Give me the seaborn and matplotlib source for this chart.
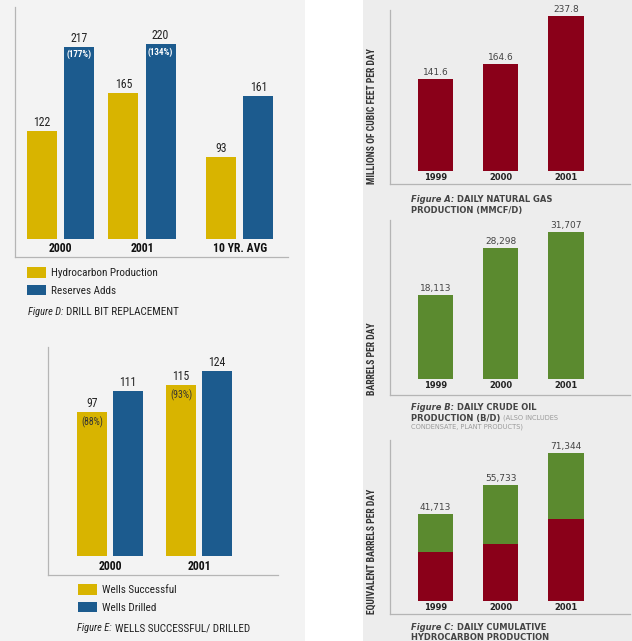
import matplotlib
matplotlib.use("Agg")
import matplotlib.pyplot as plt
import matplotlib.transforms as mtransforms
from matplotlib import font_manager as fm
from matplotlib.patches import Patch, Rectangle
import pandas as pd
import seaborn as sns

# ---------------- data ----------------
d_groups = ["2000", "2001", "10 YR. AVG"]
d_series = ["Hydrocarbon Production", "Reserves Adds"]
d_production = [122, 165, 93]
d_reserves = [217, 220, 161]
d_reserve_pct = ["(177%)", "(134%)", ""]

e_groups = ["2000", "2001"]
e_series = ["Wells Successful", "Wells Drilled"]
e_successful = [97, 115]
e_drilled = [111, 124]
e_success_pct = ["(88%)", "(93%)"]

years = ["1999", "2000", "2001"]
gas_mmcfd = [141.6, 164.6, 237.8]
oil_bd = [18113, 28298, 31707]
total_boe = [41713, 55733, 71344]
gas_boe = [23600, 27435, 39637]

# ---------------- style ----------------
YEL = "#D8B400"
BLUE = "#1C5B8E"
RED = "#8A0019"
GREEN = "#5B8A2F"
WIDE = ["DejaVu Sans"]
BAR = dict(saturation=1, errorbar=None, linewidth=0, edgecolor="none")

sns.set_style("white")
plt.rcParams["font.family"] = ["Liberation Sans", "DejaVu Sans"]


def _num(v, table, default):
    if isinstance(v, (int, float)):
        return v
    return table.get(v, default)


def find_condensed(bold=False, italic=False):
    prefs = ["Liberation Sans Narrow", "Roboto Condensed", "DejaVu Sans",
             "Noto Sans", "Open Sans", "Roboto", "Lato", "Inter"]
    best, best_key = None, None
    for f in fm.fontManager.ttflist:
        name = f.name
        sv = _num(f.stretch, fm.stretch_dict, 500)
        cond = ("Narrow" in name or "Condensed" in name or sv < 500)
        if not cond or sv < 300:
            continue
        if "CJK" in name or "Mono" in name or "Serif" in name:
            continue
        w = _num(f.weight, fm.weight_dict, 400)
        if bold != (w >= 600):
            continue
        if italic != (f.style in ("italic", "oblique")):
            continue
        rank = next((i for i, p in enumerate(prefs) if name.startswith(p)), len(prefs))
        key = (rank, abs(w - (700 if bold else 400)), abs(sv - 300))
        if best_key is None or key < best_key:
            best, best_key = f, key
    if best is None:
        return fm.FontProperties(family=["Liberation Sans", "DejaVu Sans"],
                                 weight="bold" if bold else "normal",
                                 style="italic" if italic else "normal"), False
    return fm.FontProperties(fname=best.fname), True


_NR, HAS_NARROW = find_condensed()
_NB, _ = find_condensed(bold=True)
_NI, _ = find_condensed(italic=True)
SHRINK = 1.0 if HAS_NARROW else 0.88


def nf(kind, size):
    base = {"r": _NR, "b": _NB, "i": _NI}[kind].copy()
    base.set_size(size * SHRINK)
    return base


W, H = 632, 641
fig = plt.figure(figsize=(W / 100, H / 100), dpi=100)
fig.patch.set_facecolor("white")
fig.patches.append(Rectangle((0, 0), 305 / W, 1, transform=fig.transFigure,
                             facecolor="#F3F3F3", edgecolor="none", zorder=-10))
fig.patches.append(Rectangle((363 / W, 0), (W - 363) / W, 1, transform=fig.transFigure,
                             facecolor="#EDEDED", edgecolor="none", zorder=-10))
renderer = fig.canvas.get_renderer()


def add_ax(x0, y0, x1, y1):
    ax = fig.add_axes([x0 / W, 1 - y1 / H, (x1 - x0) / W, (y1 - y0) / H])
    ax.set_facecolor("none")
    for s in ("top", "right"):
        ax.spines[s].set_visible(False)
    for s in ("left", "bottom"):
        ax.spines[s].set_color("#B5B5B5")
        ax.spines[s].set_linewidth(0.9)
    return ax


def finish(ax):
    ax.set_xticks([])
    ax.set_yticks([])
    ax.set_xlabel("")
    ax.set_ylabel("")


def px_offset(ax, dy):
    return mtransforms.offset_copy(ax.transData, fig=fig, x=0, y=dy, units="dots")


def label_bars(ax, container, labels, dy, va, **kw):
    for bar, lab in zip(container, labels):
        if not lab:
            continue
        x = bar.get_x() + bar.get_width() / 2
        y = bar.get_y() + bar.get_height()
        ax.text(x, y, lab, transform=px_offset(ax, dy), ha="center", va=va, **kw)


def cat_labels(ax, xs, labels, dy, **kw):
    for x, lab in zip(xs, labels):
        ax.text(x, 0, lab, transform=px_offset(ax, dy), ha="center", va="center", **kw)


def legend(colors, labels, x, y):
    fig.legend(handles=[Patch(facecolor=c, edgecolor="none") for c in colors],
               labels=labels, loc="upper left", bbox_to_anchor=(x / W, 1 - y / H),
               frameon=False, prop=nf("r", 8),
               handlelength=1.75, handleheight=1.1, handletextpad=0.4,
               labelspacing=0.6, borderpad=0, borderaxespad=0, labelcolor="#222")


def caption(x, y, parts, gap=3):
    cx = x
    for text, kw in parts:
        t = fig.text(cx / W, 1 - y / H, text, va="center", ha="left", **kw)
        bb = t.get_window_extent(renderer)
        cx = bb.x1 + gap


# ---------------- Figure D ----------------
axD = add_ax(15, 7, 288, 257)
d_pos = [0.0, 1.0, 2.2]
df_d = pd.DataFrame({
    "pos": d_pos + d_pos,
    "value": d_production + d_reserves,
    "series": [d_series[0]] * len(d_pos) + [d_series[1]] * len(d_pos),
})
sns.barplot(data=df_d, x="pos", y="value", hue="series", hue_order=d_series,
            palette=[YEL, BLUE], native_scale=True, width=0.91, gap=0.19,
            legend=False, ax=axD, **BAR)
axD.set_xlim(-0.558, 2.791)
axD.set_ylim(-20.3, 262)
finish(axD)
label_bars(axD, axD.containers[0], [str(v) for v in d_production], 2, "bottom",
           fontproperties=nf("r", 8.5), color="#222")
label_bars(axD, axD.containers[1], [str(v) for v in d_reserves], 2, "bottom",
           fontproperties=nf("r", 8.5), color="#222")
label_bars(axD, axD.containers[1], d_reserve_pct, -3, "top",
           fontproperties=nf("b", 6.5), color="white")
cat_labels(axD, d_pos, d_groups, -9, fontproperties=nf("b", 8.5), color="#111")
legend([YEL, BLUE], d_series, 27, 267)
caption(28, 312, [("Figure D:", dict(fontproperties=nf("i", 7.5), color="#222")),
                  ("DRILL BIT REPLACEMENT", dict(fontproperties=nf("r", 8), color="#222"))])

# ---------------- Figure E ----------------
axE = add_ax(48, 347, 278, 575)
df_e = pd.DataFrame({
    "group": e_groups + e_groups,
    "value": e_successful + e_drilled,
    "series": [e_series[0]] * len(e_groups) + [e_series[1]] * len(e_groups),
})
sns.barplot(data=df_e, x="group", y="value", hue="series", order=e_groups,
            hue_order=e_series, palette=[YEL, BLUE], width=0.809, gap=0.167,
            legend=False, ax=axE, **BAR)
axE.set_xlim(-0.697, 1.888)
axE.set_ylim(-12.75, 140.3)
finish(axE)
label_bars(axE, axE.containers[0], [str(v) for v in e_successful], 2, "bottom",
           fontproperties=nf("r", 8.5), color="#222")
label_bars(axE, axE.containers[1], [str(v) for v in e_drilled], 2, "bottom",
           fontproperties=nf("r", 8.5), color="#222")
label_bars(axE, axE.containers[0], e_success_pct, -5, "top",
           fontproperties=nf("r", 7), color="#333")
cat_labels(axE, range(len(e_groups)), e_groups, -10, fontproperties=nf("b", 8.5), color="#111")
legend([YEL, BLUE], e_series, 78, 584)
caption(77, 628, [("Figure E:", dict(fontproperties=nf("i", 7.5), color="#222")),
                  ("WELLS SUCCESSFUL/ DRILLED", dict(fontproperties=nf("r", 8), color="#222"))])


# ---------------- right column ----------------
def right_common(ax, ylim, ylabel, y1):
    ax.set_xlim(-0.70, 2.98)
    ax.set_ylim(*ylim)
    finish(ax)
    cat_labels(ax, range(len(years)), years, -6, fontsize=6, fontweight="bold",
               color="#222", family=WIDE)
    fig.text(372 / W, 1 - y1 / H, ylabel, rotation=90, ha="center", va="bottom",
             fontproperties=nf("b", 7), color="#333")


CAP = dict(fontsize=6, fontweight="bold", color="#444", family=WIDE)
CAPI = dict(fontsize=6, fontweight="bold", style="italic", color="#444", family=WIDE)
SMALL = dict(fontsize=4.8, color="#9A9A9A", family=WIDE)
VAL = dict(fontsize=6.5, color="#444", family=WIDE)

# Figure A
axA = add_ax(390, 10, 630, 184)
df_a = pd.DataFrame({"year": years, "value": gas_mmcfd})
sns.barplot(data=df_a, x="year", y="value", order=years, color=RED, width=0.54,
            ax=axA, **BAR)
right_common(axA, (-19.9, 247), "MILLIONS OF CUBIC FEET PER DAY", 184)
label_bars(axA, axA.containers[0], [f"{v:.1f}" for v in gas_mmcfd], 2, "bottom", **VAL)
caption(411, 200, [("Figure A:", CAPI), ("DAILY NATURAL GAS", CAP)])
caption(411, 210, [("PRODUCTION (MMCF/D)", CAP)])

# Figure B
axB = add_ax(390, 220, 630, 395)
df_b = pd.DataFrame({"year": years, "value": oil_bd})
sns.barplot(data=df_b, x="year", y="value", order=years, color=GREEN, width=0.54,
            ax=axB, **BAR)
right_common(axB, (-3450, 34290), "BARRELS PER DAY", 395)
label_bars(axB, axB.containers[0], [f"{v:,}" for v in oil_bd], 2, "bottom", **VAL)
caption(411, 408, [("Figure B:", CAPI), ("DAILY CRUDE OIL", CAP)])
caption(411, 418, [("PRODUCTION (B/D)", CAP), ("(ALSO INCLUDES", SMALL)])
caption(411, 427, [("CONDENSATE, PLANT PRODUCTS)", SMALL)])

# Figure C
axC = add_ax(390, 440, 630, 614)
df_c = pd.DataFrame({"year": years, "total": total_boe, "gas": gas_boe})
sns.barplot(data=df_c, x="year", y="total", order=years, color=GREEN, width=0.54,
            ax=axC, **BAR)
sns.barplot(data=df_c, x="year", y="gas", order=years, color=RED, width=0.54,
            ax=axC, **BAR)
right_common(axC, (-6265, 77590), "EQUIVALENT BARRELS PER DAY", 614)
label_bars(axC, axC.containers[0], [f"{v:,}" for v in total_boe], 2, "bottom", **VAL)
caption(411, 628, [("Figure C:", CAPI), ("DAILY CUMULATIVE", CAP)])
caption(411, 638, [("HYDROCARBON PRODUCTION", CAP)])

fig.savefig("out.png", dpi=100)
